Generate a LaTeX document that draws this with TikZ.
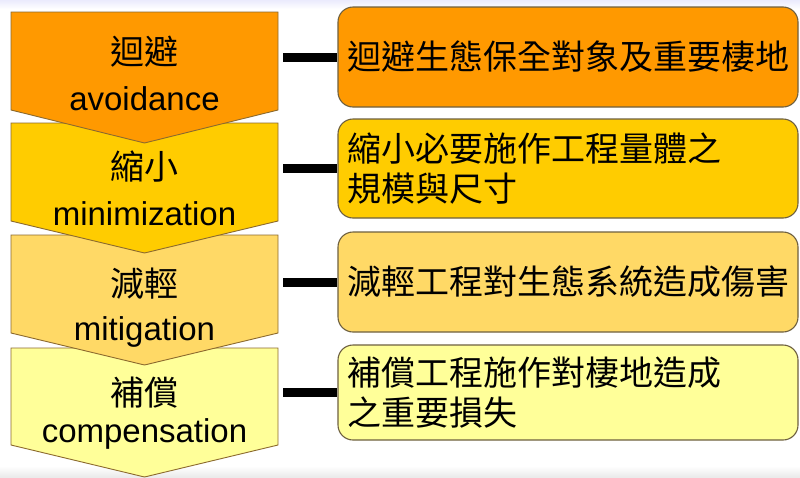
\documentclass[tikz,border=0pt]{standalone}
\usepackage{fontspec}
\setmainfont{Liberation Sans}
\newfontfamily\cjk{Noto Sans CJK TC}
\usepackage{tikz}
\usetikzlibrary{positioning}

\definecolor{avoidfill}{HTML}{FF9900}
\definecolor{minifill}{HTML}{FFCC00}
\definecolor{mitifill}{HTML}{FFD966}
\definecolor{compfill}{HTML}{FFFF99}
\definecolor{edgebrown}{HTML}{8C6A2E}
\definecolor{boxedge}{HTML}{6E6040}

\tikzset{
  chevron/.style={draw=edgebrown, line width=0.9pt, line join=miter},
  zhlabel/.style={font=\cjk\fontsize{34}{40}\selectfont, inner sep=0pt},
  enlabel/.style={font=\fontsize{33}{40}\selectfont, inner sep=0pt, anchor=base},
  goalbox/.style={draw=boxedge, line width=1.1pt, rounded corners=15pt,
    minimum width=460pt, text width=442pt, inner xsep=9pt, inner ysep=0pt,
    align=left, font=\cjk\fontsize{34}{40}\selectfont},
  bar/.style={line width=9pt, black}
}

\begin{document}
\begin{tikzpicture}[x=1pt, y=-1pt]
        \useasboundingbox (0,0) rectangle (800,477);
        \fill[white] (0,0) rectangle (800,477);
        \shade[top color=black!10!blue!8, bottom color=white] (0,0) rectangle (800,9);
        \shade[top color=white, bottom color=black!8] (0,466) rectangle (800,477);

        % chevrons, drawn from the bottom so each tip lies on the next one
        \draw[chevron, fill=compfill] (11,348) -- (278,348) -- (278,445) -- (144.5,477) -- (11,445) -- cycle;
        \draw[chevron, fill=mitifill] (11,235) -- (278,235) -- (278,333) -- (144.5,365) -- (11,333) -- cycle;
        \draw[chevron, fill=minifill] (11,123) -- (278,123) -- (278,221) -- (144.5,253) -- (11,221) -- cycle;
        \draw[chevron, fill=avoidfill] (11,12) -- (278,12) -- (278,110) -- (144.5,143) -- (11,110) -- cycle;

        \node[zhlabel] (avoidZh) at (144.5,52) {迴避};
        \node[enlabel] (avoidEn) at (144.5,110) {avoidance};
        \node[zhlabel] (miniZh) at (144.5,167) {縮小};
        \node[enlabel] (miniEn) at (144.5,225) {minimization};
        \node[zhlabel] (mitiZh) at (144.5,284) {減輕};
        \node[enlabel] (mitiEn) at (144.5,340) {mitigation};
        \node[zhlabel] (compZh) at (144.5,393) {補償};
        \node[enlabel] (compEn) at (144.5,442) {compensation};

        % goals on the right
        \node[goalbox, fill=avoidfill, minimum height=100pt] (avoidGoal) at (568,57) {迴避生態保全對象及重要棲地};
        \node[goalbox, fill=minifill, minimum height=99pt] (miniGoal) at (568,168.5) {縮小必要施作工程量體之\\規模與尺寸};
        \node[goalbox, fill=mitifill, minimum height=100pt] (mitiGoal) at (568,282) {減輕工程對生態系統造成傷害};
        \node[goalbox, fill=compfill, minimum height=95pt] (compGoal) at (568,392.5) {補償工程施作對棲地造成\\之重要損失};

        \coordinate (avoidOut) at (283,57);
        \coordinate (miniOut) at (283,168.5);
        \coordinate (mitiOut) at (283,282);
        \coordinate (compOut) at (283,392.5);

        \draw[bar] (avoidOut) -- (avoidGoal.west);
        \draw[bar] (miniOut) -- (miniGoal.west);
        \draw[bar] (mitiOut) -- (mitiGoal.west);
        \draw[bar] (compOut) -- (compGoal.west);
      \end{tikzpicture}
\end{document}
